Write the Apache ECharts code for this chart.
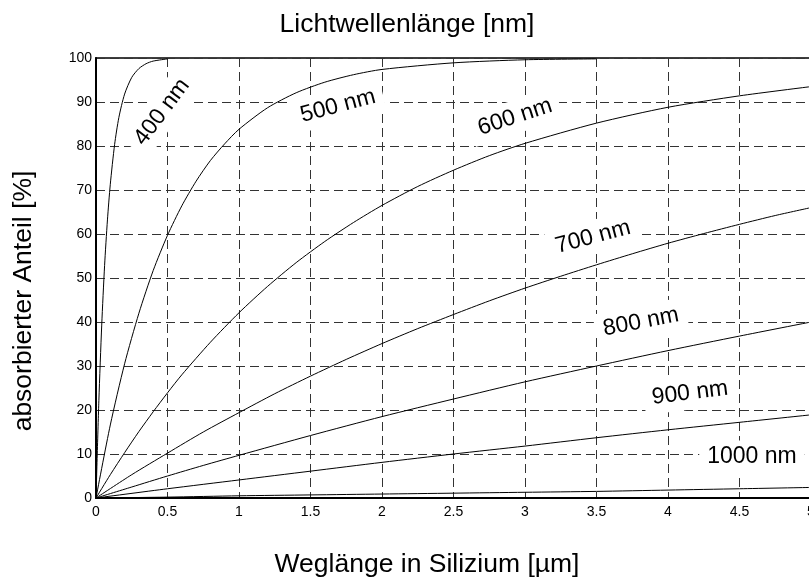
<!DOCTYPE html>
<html>
<head>
<meta charset="utf-8">
<script src="https://cdn.jsdelivr.net/npm/echarts@6/dist/echarts.min.js"></script>
<style>
html,body{margin:0;padding:0;background:#fff;}
#chart{width:809px;height:582px;}
</style>
</head>
<body>
<div id="chart"></div>
<script>
// Path length in silicon (µm) and absorbed fraction (%) per wavelength
const x400 = [0, 0.02, 0.04, 0.06, 0.08, 0.1, 0.13, 0.16, 0.2, 0.25, 0.3, 0.35, 0.4, 0.5];
const y400 = [0, 22.1, 39.3, 52.8, 63.2, 71.3, 80.3, 86.5, 91.8, 95.6, 97.6, 98.7, 99.3, 99.8];

const x500 = [0, 0.1, 0.2, 0.3, 0.4, 0.5, 0.6, 0.7, 0.8, 0.9, 1.0, 1.2, 1.4, 1.6, 1.8, 2.0, 2.5, 3.0, 3.5];
const y500 = [0, 16.6, 30.5, 42.0, 51.7, 59.7, 66.4, 72.0, 76.7, 80.5, 83.8, 88.7, 92.1, 94.5, 96.2, 97.4, 98.9, 99.6, 99.8];

const x600 = [0, 0.1, 0.2, 0.3, 0.4, 0.5, 0.6, 0.8, 1.0, 1.2, 1.4, 1.6, 1.8, 2.0, 2.25, 2.5, 2.75, 3.0, 3.5, 4.0, 4.5, 5.0];
const y600 = [0, 5.3, 10.3, 15.1, 19.6, 23.9, 28.0, 35.4, 42.1, 48.1, 53.5, 58.3, 62.6, 66.5, 70.8, 74.5, 77.8, 80.6, 85.2, 88.8, 91.4, 93.5];

const x700 = [0, 0.25, 0.5, 0.75, 1.0, 1.25, 1.5, 1.75, 2.0, 2.25, 2.5, 2.75, 3.0, 3.25, 3.5, 3.75, 4.0, 4.25, 4.5, 4.75, 5.0];
const y700 = [0, 5.3, 10.2, 15.0, 19.4, 23.7, 27.7, 31.5, 35.1, 38.5, 41.7, 44.8, 47.7, 50.4, 53.0, 55.5, 57.9, 60.1, 62.2, 64.2, 66.0];

const x800 = [0, 0.25, 0.5, 0.75, 1.0, 1.5, 2.0, 2.5, 3.0, 3.5, 4.0, 4.5, 5.0];
const y800 = [0, 2.5, 5.0, 7.4, 9.7, 14.2, 18.5, 22.5, 26.4, 30.0, 33.5, 36.8, 40.0];

const x900 = [0, 0.5, 1.0, 1.5, 2.0, 2.5, 3.0, 3.5, 4.0, 4.5, 5.0];
const y900 = [0, 2.1, 4.1, 6.1, 8.1, 10.0, 11.8, 13.7, 15.5, 17.2, 18.9];

const x1000 = [0, 0.5, 1.0, 1.5, 2.0, 2.5, 3.0, 3.5, 4.0, 4.5, 5.0];
const y1000 = [0, 0.2, 0.5, 0.7, 0.9, 1.1, 1.3, 1.5, 1.8, 2.1, 2.4];

const curveNames = ['400 nm', '500 nm', '600 nm', '700 nm', '800 nm', '900 nm', '1000 nm'];
const curveX = [x400, x500, x600, x700, x800, x900, x1000];
const curveY = [y400, y500, y600, y700, y800, y900, y1000];

const topTitle = 'Lichtwellenlänge [nm]';
const xTitle = 'Weglänge in Silizium [µm]';
const yTitle = 'absorbierter Anteil [%]';

const FONT = '"Liberation Sans", Arial, Helvetica, sans-serif';

const series = curveNames.map((name, i) => ({
  name: name,
  type: 'line',
  z: 5,
  data: curveX[i].map((x, j) => [x, curveY[i][j]]),
  showSymbol: false,
  symbol: 'none',
  smooth: 0.25,
  lineStyle: { color: '#000', width: 1 },
  silent: true
}));

// curve label placement (pixel layout) and tilt in degrees
const labelLayout = [
  { x: 162, y: 112, r: 53 },
  { x: 338, y: 106, r: 15 },
  { x: 515, y: 117, r: 18 },
  { x: 593, y: 237, r: 15 },
  { x: 641, y: 322, r: 11 },
  { x: 690, y: 393, r: 7 },
  { x: 752, y: 457, r: 0 }
];

const graphics = curveNames.map((name, i) => ({
  type: 'text',
  x: labelLayout[i].x,
  y: labelLayout[i].y,
  rotation: labelLayout[i].r * Math.PI / 180,
  z: 1,
  style: {
    text: name,
    font: '23px ' + FONT,
    fill: '#000',
    textAlign: 'center',
    textVerticalAlign: 'middle',
    align: 'center',
    verticalAlign: 'middle',
    backgroundColor: '#fff',
    padding: [5, 8]
  }
}));

const titleStyle = (t) => ({ text: t, font: '26.5px ' + FONT, fill: '#000', textAlign: 'center', textVerticalAlign: 'middle', align: 'center', verticalAlign: 'middle' });
graphics.push(
  { type: 'text', x: 407, y: 25, z: 10, style: titleStyle(topTitle) },
  { type: 'text', x: 427, y: 565, z: 10, style: titleStyle(xTitle) },
  { type: 'text', x: 24, y: 301, rotation: Math.PI / 2, z: 10, style: titleStyle(yTitle) }
);

const chart = echarts.init(document.getElementById('chart'), null, { renderer: 'canvas' });
chart.setOption({
  animation: false,
  backgroundColor: '#fff',
  grid: {
    left: 96, right: -2, top: 58, bottom: 84,
    containLabel: false, outerBoundsMode: 'none',
    show: true, borderColor: '#000', borderWidth: 1.5, backgroundColor: 'transparent'
  },
  xAxis: {
    type: 'value', min: 0, max: 5, interval: 0.5,
    axisLine: { show: true, onZero: false, lineStyle: { color: '#000', width: 2 } },
    axisTick: { show: false },
    axisLabel: { color: '#000', fontSize: 14, fontFamily: FONT, margin: 7 },
    splitLine: { show: true, lineStyle: { color: '#333', width: 1, type: [9, 5] } }
  },
  yAxis: {
    type: 'value', min: 0, max: 100, interval: 10,
    axisLine: { show: true, onZero: false, lineStyle: { color: '#000', width: 2 } },
    axisTick: { show: false },
    axisLabel: { color: '#000', fontSize: 14, fontFamily: FONT, margin: 4 },
    splitLine: { show: true, lineStyle: { color: '#333', width: 1, type: [9, 5] } }
  },
  series: series,
  graphic: { elements: graphics }
});
</script>
</body>
</html>
